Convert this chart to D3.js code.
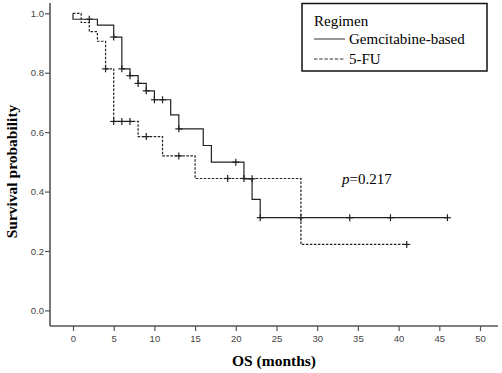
<!DOCTYPE html>
<html><head><meta charset="utf-8">
<script src="https://cdn.jsdelivr.net/npm/d3@7"></script>
<style>body{margin:0;background:#fff}svg{display:block}</style>
</head><body><svg id="c" width="502" height="373"></svg>
<script>
// Data
const xTicks = [0,5,10,15,20,25,30,35,40,45,50];
const yTicks = [0.0,0.2,0.4,0.6,0.8,1.0];
const gemTimes = [0,3,5,6,7,8,9,10,12,13,16,17,21,22,23];
const gemSurv = [0.98,0.96,0.92,0.813,0.79,0.764,0.739,0.709,0.658,0.611,0.555,0.499,0.443,0.374,0.312];
const gemCensor = [2,5,6,7,8,9,10,11,13,20,22,23,28,34,39,46];
const gemCensorSurv = [0.98,0.92,0.813,0.79,0.764,0.739,0.709,0.709,0.611,0.499,0.443,0.312,0.312,0.312,0.312,0.312];
const gemEnd = 46;
const fuTimes = [1,2,3,4,5,8,11,15,28];
const fuSurv = [0.969,0.938,0.906,0.813,0.636,0.585,0.52,0.444,0.222];
const fuCensor = [4,5,6,7,9,13,19,21,41];
const fuCensorSurv = [0.813,0.636,0.636,0.636,0.585,0.52,0.444,0.444,0.222];
const fuEnd = 41;

const svg = d3.select("#c");
const x = d3.scaleLinear().domain([0,50]).range([73,480]);
const y = d3.scaleLinear().domain([0,1]).range([310.4,13.3]);
const axisColor = "#555";

// axes
const gx = svg.append("g").attr("transform","translate(0,326)")
  .call(d3.axisBottom(x).tickValues(xTicks).tickSize(5).tickSizeOuter(0).tickFormat(d3.format("d")));
const gy = svg.append("g").attr("transform","translate(50,0)")
  .call(d3.axisLeft(y).tickValues(yTicks).tickSize(5).tickSizeOuter(0).tickFormat(d3.format(".1f")));
[gx,gy].forEach(g=>{
  g.select(".domain").remove();
  g.selectAll(".tick line").attr("stroke",axisColor).attr("stroke-width",1.2);
  g.selectAll(".tick text").attr("fill","#444").style("font-family","'Liberation Sans',Arial,sans-serif").style("font-size","9.5px");
});
gx.selectAll(".tick text").attr("dy","0.9em").attr("y",7);
gy.selectAll(".tick text").attr("x",-6);
svg.append("line").attr("x1",50).attr("x2",498).attr("y1",326).attr("y2",326).attr("stroke",axisColor).attr("stroke-width",1.6);
svg.append("line").attr("x1",50).attr("x2",50).attr("y1",3).attr("y2",326).attr("stroke",axisColor).attr("stroke-width",1.6);

function stepPath(times, surv, end){
  const pts = [[0,1]];
  let cur = 1;
  times.forEach((t,i)=>{ pts.push([t,cur]); cur = surv[i]; pts.push([t,cur]); });
  pts.push([end,cur]);
  return d3.line().x(d=>x(d[0])).y(d=>y(d[1]))(pts);
}
function drawCurve(times, surv, end, censor, censorSurv, dash){
  svg.append("path").attr("d",stepPath(times,surv,end)).attr("fill","none")
    .attr("stroke","#222").attr("stroke-width",1.2).attr("stroke-dasharray",dash);
  censor.forEach((t,i)=>{
    const cx = x(t), cy = y(censorSurv[i]);
    svg.append("line").attr("x1",cx).attr("x2",cx).attr("y1",cy-3.5).attr("y2",cy+3.5).attr("stroke","#222").attr("stroke-width",1.2);
    svg.append("line").attr("x1",cx-3.5).attr("x2",cx+3.5).attr("y1",cy).attr("y2",cy).attr("stroke","#222").attr("stroke-width",1.2);
  });
}
drawCurve(fuTimes, fuSurv, fuEnd, fuCensor, fuCensorSurv, "2.5,1.5");
drawCurve(gemTimes, gemSurv, gemEnd, gemCensor, gemCensorSurv, null);

// axis titles
const serif = "'Liberation Serif','Times New Roman',serif";
svg.append("text").attr("x",274).attr("y",366).attr("text-anchor","middle")
  .style("font-family",serif).style("font-weight","bold").style("font-size","15.5px").text("OS (months)");
svg.append("text").attr("transform","translate(17,171.5) rotate(-90)").attr("text-anchor","middle")
  .style("font-family",serif).style("font-weight","bold").style("font-size","15.5px").text("Survival probability");

// p-value
const pt = svg.append("text").attr("x",342).attr("y",184).style("font-family",serif).style("font-size","15px");
pt.append("tspan").style("font-style","italic").text("p");
pt.append("tspan").text("=0.217");

// legend
svg.append("rect").attr("x",302).attr("y",3.5).attr("width",185).attr("height",67.5)
  .attr("fill","#fff").attr("stroke","#111").attr("stroke-width",1.5);
svg.append("text").attr("x",314).attr("y",26).style("font-family",serif).style("font-size","15px").text("Regimen");
svg.append("line").attr("x1",314).attr("x2",345).attr("y1",39).attr("y2",39).attr("stroke","#333").attr("stroke-width",1);
svg.append("text").attr("x",349).attr("y",44).style("font-family",serif).style("font-size","15px").text("Gemcitabine-based");
svg.append("line").attr("x1",314).attr("x2",345).attr("y1",59).attr("y2",59).attr("stroke","#333").attr("stroke-width",1).attr("stroke-dasharray","3.5,1.7");
svg.append("text").attr("x",349).attr("y",64).style("font-family",serif).style("font-size","15px").text("5-FU");
</script></body></html>
